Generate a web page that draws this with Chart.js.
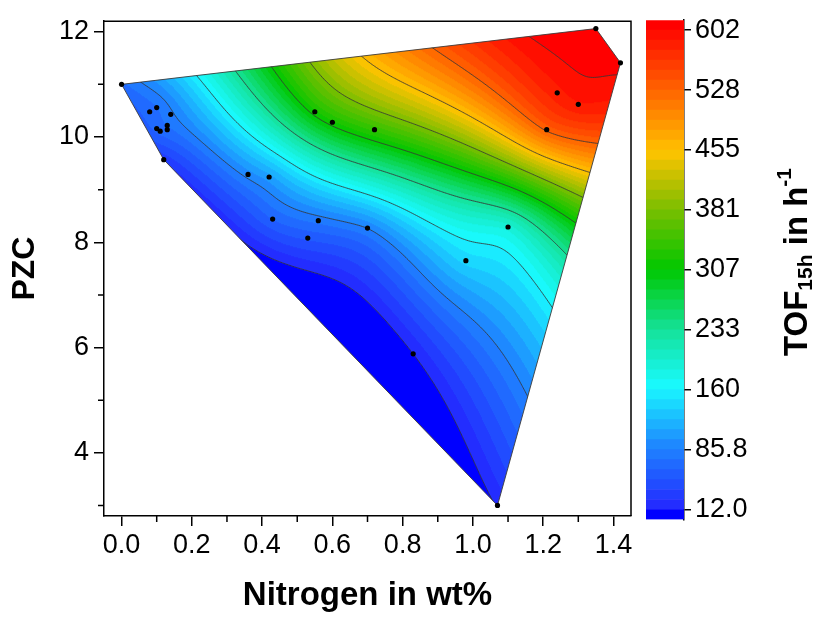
<!DOCTYPE html>
<html>
<head>
<meta charset="utf-8">
<script src="https://cdn.jsdelivr.net/npm/chart.js@4.4.0/dist/chart.umd.min.js"></script>
<style>
  html, body { margin: 0; padding: 0; background: #fff; }
  #wrap { position: relative; width: 825px; height: 617px; }
  #main { position: absolute; left: 0; top: 0; }
  #cbar { position: absolute; left: 640px; top: 0; }
</style>
</head>
<body>
<div id="wrap">
  <canvas id="main" width="640" height="617"></canvas>
  <canvas id="cbar" width="185" height="617"></canvas>
</div>
<script>
'use strict';

// measured samples: nitrogen content, point of zero charge, turnover frequency
var nitrogen = [0.00, 0.08, 0.10, 0.14, 0.10, 0.11, 0.13, 0.13, 0.12, 0.36, 0.42, 0.43, 0.56, 0.53,
                0.70, 0.55, 0.60, 0.72, 1.35, 1.42, 1.24, 1.30, 1.21, 1.10, 0.98, 0.83, 1.07];
var pzc      = [11.00, 10.48, 10.56, 10.43, 10.16, 10.11, 10.22, 10.14, 9.57, 9.29, 9.24, 8.44, 8.41, 8.08,
                8.27, 10.48, 10.28, 10.14, 12.06, 11.41, 10.84, 10.62, 10.14, 8.29, 7.65, 5.88, 3.00];
var tof      = [70, 68, 72, 82, 66, 66, 74, 70, 28, 92, 105, 62, 78, 52,
                86, 316, 316, 336, 615, 606, 585, 588, 532, 190, 140, 12, 14];

var xTicks = [0.0, 0.2, 0.4, 0.6, 0.8, 1.0, 1.2, 1.4];
var xMinorTicks = [0.1, 0.3, 0.5, 0.7, 0.9, 1.1, 1.3];
var yTicks = [4, 6, 8, 10, 12];
var yMinorTicks = [3, 5, 7, 9, 11];
var cbTicks = [12.0, 85.75, 159.5, 233.25, 307.0, 380.75, 454.5, 528.25, 602.0];

var tofMin = 12.0, tofMax = 602.0, nBands = 48;
var bandStep = (tofMax - tofMin) / nBands;

var FONT = "'Liberation Sans', Arial, sans-serif";

// Origin-like rainbow
var palStops = [
  [0.000, 35, 45, 255], [0.125, 30, 135, 255], [0.250, 25, 250, 255], [0.375, 20, 225, 150],
  [0.500, 0, 200, 0], [0.625, 120, 190, 0], [0.750, 255, 195, 0], [0.875, 255, 105, 0], [1.000, 255, 15, 0]
];
var underColor = [0, 0, 255], overColor = [255, 0, 0];

function palette(t) {
  for (var i = 1; i < palStops.length; i++) {
    if (t <= palStops[i][0]) {
      var a = palStops[i - 1], b = palStops[i];
      var f = (t - a[0]) / (b[0] - a[0]);
      return [Math.round(a[1] + f * (b[1] - a[1])), Math.round(a[2] + f * (b[2] - a[2])), Math.round(a[3] + f * (b[3] - a[3]))];
    }
  }
  var l = palStops[palStops.length - 1];
  return [l[1], l[2], l[3]];
}
function bandColor(v) {
  if (v < tofMin) return underColor;
  if (v >= tofMax) return overColor;
  var k = Math.floor((v - tofMin) / bandStep);
  return palette(k / (nBands - 1));
}

// thin plate spline through the samples (scaled to roughly screen aspect)
var UX = 0.702, UY = 0.106;
function kern(r2) { return r2 > 0 ? 0.5 * r2 * Math.log(r2) : 0; }
function solveTps(us, vs, zs, lambda) {
  var n = us.length, m = n + 3, A = [], b = [], i, j, k;
  for (i = 0; i < m; i++) { A.push(new Array(m).fill(0)); b.push(0); }
  for (i = 0; i < n; i++) {
    for (j = 0; j < n; j++) {
      var dx = us[i] - us[j], dy = vs[i] - vs[j];
      A[i][j] = kern(dx * dx + dy * dy) + (i === j ? lambda : 0);
    }
    A[i][n] = 1; A[i][n + 1] = us[i]; A[i][n + 2] = vs[i];
    A[n][i] = 1; A[n + 1][i] = us[i]; A[n + 2][i] = vs[i];
    b[i] = zs[i];
  }
  for (k = 0; k < m; k++) {
    var p = k;
    for (i = k + 1; i < m; i++) if (Math.abs(A[i][k]) > Math.abs(A[p][k])) p = i;
    var t = A[k]; A[k] = A[p]; A[p] = t; t = b[k]; b[k] = b[p]; b[p] = t;
    for (i = k + 1; i < m; i++) {
      var f = A[i][k] / A[k][k];
      for (j = k; j < m; j++) A[i][j] -= f * A[k][j];
      b[i] -= f * b[k];
    }
  }
  var x = new Array(m).fill(0);
  for (i = m - 1; i >= 0; i--) {
    var s = b[i];
    for (j = i + 1; j < m; j++) s -= A[i][j] * x[j];
    x[i] = s / A[i][i];
  }
  return x;
}

function convexHull(pts) {
  pts = pts.slice().sort(function(a, b) { return a[0] - b[0] || a[1] - b[1]; });
  function cross(o, a, b) { return (a[0] - o[0]) * (b[1] - o[1]) - (a[1] - o[1]) * (b[0] - o[0]); }
  var lower = [], upper = [], i;
  for (i = 0; i < pts.length; i++) {
    while (lower.length >= 2 && cross(lower[lower.length - 2], lower[lower.length - 1], pts[i]) <= 0) lower.pop();
    lower.push(pts[i]);
  }
  for (i = pts.length - 1; i >= 0; i--) {
    while (upper.length >= 2 && cross(upper[upper.length - 2], upper[upper.length - 1], pts[i]) <= 0) upper.pop();
    upper.push(pts[i]);
  }
  upper.pop(); lower.pop();
  return lower.concat(upper);
}

var contourPlugin = {
  id: 'contourFill',
  beforeDatasetsDraw: function(chart) {
    var ctx = chart.ctx, ca = chart.chartArea, xs = chart.scales.x, ys = chart.scales.y;
    var W = Math.ceil(ca.right - ca.left), H = Math.ceil(ca.bottom - ca.top);
    var us = nitrogen.map(function(v) { return v * UX; });
    var vs = pzc.map(function(v) { return v * UY; });
    var n = us.length;
    var coef = solveTps(us, vs, tof, 2e-4);
    var field = new Float32Array(W * H);
    var i, j, k;
    for (j = 0; j < H; j++) {
      var v = ys.getValueForPixel(ca.top + j + 0.5) * UY;
      for (i = 0; i < W; i++) {
        var u = xs.getValueForPixel(ca.left + i + 0.5) * UX;
        var s = coef[n] + coef[n + 1] * u + coef[n + 2] * v;
        for (k = 0; k < n; k++) {
          var dx = u - us[k], dy = v - vs[k];
          s += coef[k] * kern(dx * dx + dy * dy);
        }
        field[j * W + i] = s;
      }
    }
    var off = document.createElement('canvas');
    off.width = W; off.height = H;
    var octx = off.getContext('2d');
    var img = octx.createImageData(W, H);
    for (i = 0; i < W * H; i++) {
      var c = bandColor(field[i]);
      img.data[i * 4] = c[0]; img.data[i * 4 + 1] = c[1]; img.data[i * 4 + 2] = c[2]; img.data[i * 4 + 3] = 255;
    }
    octx.putImageData(img, 0, 0);

    var hull = convexHull(nitrogen.map(function(x, idx) { return [x, pzc[idx]]; }))
      .map(function(p) { return [xs.getPixelForValue(p[0]), ys.getPixelForValue(p[1])]; });
    function hullPath() {
      ctx.beginPath();
      hull.forEach(function(p, idx) { if (idx) ctx.lineTo(p[0], p[1]); else ctx.moveTo(p[0], p[1]); });
      ctx.closePath();
    }

    ctx.save();
    hullPath();
    ctx.clip();
    ctx.drawImage(off, ca.left, ca.top);

    // contour lines at the colour bar tick values (marching squares, 2px cells)
    var g = 2;
    ctx.strokeStyle = 'rgba(55,55,55,0.85)';
    ctx.lineWidth = 1;
    function val(ii, jj) { return field[Math.min(jj, H - 1) * W + Math.min(ii, W - 1)]; }
    cbTicks.forEach(function(L) {
      ctx.beginPath();
      for (var jj = 0; jj + g < H; jj += g) {
        for (var ii = 0; ii + g < W; ii += g) {
          var a = val(ii, jj), b = val(ii + g, jj), c2 = val(ii + g, jj + g), d = val(ii, jj + g);
          var pts = [];
          var x0 = ca.left + ii + 0.5, y0 = ca.top + jj + 0.5;
          if ((a - L) * (b - L) < 0) pts.push([x0 + g * (L - a) / (b - a), y0]);
          if ((b - L) * (c2 - L) < 0) pts.push([x0 + g, y0 + g * (L - b) / (c2 - b)]);
          if ((d - L) * (c2 - L) < 0) pts.push([x0 + g * (L - d) / (c2 - d), y0 + g]);
          if ((a - L) * (d - L) < 0) pts.push([x0, y0 + g * (L - a) / (d - a)]);
          for (var q = 0; q + 1 < pts.length; q += 2) {
            ctx.moveTo(pts[q][0], pts[q][1]);
            ctx.lineTo(pts[q + 1][0], pts[q + 1][1]);
          }
        }
      }
      ctx.stroke();
    });
    ctx.restore();

    ctx.save();
    hullPath();
    ctx.strokeStyle = 'rgba(60,60,60,0.9)';
    ctx.lineWidth = 1;
    ctx.stroke();
    ctx.restore();
  },
  afterDraw: function(chart) {
    var ctx = chart.ctx, ca = chart.chartArea, xs = chart.scales.x, ys = chart.scales.y;
    ctx.save();
    ctx.strokeStyle = '#000';
    ctx.lineWidth = 1.5;
    ctx.beginPath();
    ctx.moveTo(ca.left, ca.top); ctx.lineTo(ca.right, ca.top); ctx.lineTo(ca.right, ca.bottom);
    xMinorTicks.forEach(function(v) {
      var px = xs.getPixelForValue(v);
      ctx.moveTo(px, ca.bottom); ctx.lineTo(px, ca.bottom + 6);
    });
    yMinorTicks.forEach(function(v) {
      var py = ys.getPixelForValue(v);
      ctx.moveTo(ca.left, py); ctx.lineTo(ca.left - 6, py);
    });
    ctx.stroke();
    ctx.restore();
  }
};

var mainChart = new Chart(document.getElementById('main'), {
  type: 'scatter',
  data: {
    datasets: [{
      data: nitrogen.map(function(x, i) { return { x: x, y: pzc[i] }; }),
      backgroundColor: '#000',
      borderWidth: 0,
      pointRadius: 2.6
    }]
  },
  options: {
    responsive: false,
    animation: false,
    layout: { padding: { top: 19, right: 9, left: 0, bottom: 0 } },
    plugins: { legend: { display: false }, tooltip: { enabled: false } },
    scales: {
      x: {
        type: 'linear', min: -0.05, max: 1.45,
        afterBuildTicks: function(s) { s.ticks = xTicks.map(function(v) { return { value: v }; }); },
        afterFit: function(s) { s.height = 101; },
        ticks: {
          callback: function(v) { return v.toFixed(1); },
          font: { family: FONT, size: 27 }, color: '#000', padding: 3, maxRotation: 0, autoSkip: false
        },
        grid: { drawOnChartArea: false, drawTicks: true, tickLength: 10, color: '#000', lineWidth: 1.5 },
        border: { display: true, color: '#000', width: 1.5 },
        title: {
          display: true, text: 'Nitrogen in wt%', color: '#000',
          font: { family: FONT, size: 33, weight: 'bold' }, padding: { top: 0, bottom: 1 }
        }
      },
      y: {
        type: 'linear', min: 2.8, max: 12.2,
        afterBuildTicks: function(s) { s.ticks = yTicks.map(function(v) { return { value: v }; }); },
        afterFit: function(s) { s.width = 104; },
        ticks: {
          callback: function(v) { return String(v); },
          font: { family: FONT, size: 27 }, color: '#000', padding: 5
        },
        grid: { drawOnChartArea: false, drawTicks: true, tickLength: 10, color: '#000', lineWidth: 1.5 },
        border: { display: true, color: '#000', width: 1.5 },
        title: {
          display: true, text: 'PZC', color: '#000',
          font: { family: FONT, size: 32, weight: 'bold' }, padding: { top: 6, bottom: 0 }
        }
      }
    }
  },
  plugins: [contourPlugin]
});

// colour bar: one floating bar per level band
var bandSets = [];
for (var k = -1; k <= nBands; k++) {
  var lo = tofMin + k * bandStep;
  var c = k < 0 ? underColor : (k >= nBands ? overColor : palette(k / (nBands - 1)));
  bandSets.push({
    data: [[lo, lo + bandStep]],
    backgroundColor: 'rgb(' + c.join(',') + ')',
    borderWidth: 0,
    barPercentage: 1,
    categoryPercentage: 1,
    grouped: false
  });
}

var cbTitle = {
  id: 'cbTitle',
  afterDraw: function(chart) {
    var ctx = chart.ctx;
    var parts = [
      { t: 'TOF', size: 33, dy: 0 },
      { t: '15h', size: 21, dy: 8 },
      { t: ' in h', size: 33, dy: 0 },
      { t: '-1', size: 21, dy: -13 }
    ];
    ctx.save();
    var total = 0;
    parts.forEach(function(p) {
      ctx.font = 'bold ' + p.size + 'px ' + FONT;
      p.w = ctx.measureText(p.t).width;
      total += p.w;
    });
    ctx.translate(158, 262);
    ctx.rotate(-Math.PI / 2);
    ctx.fillStyle = '#000';
    ctx.textBaseline = 'middle';
    var x = -total / 2;
    parts.forEach(function(p) {
      ctx.font = 'bold ' + p.size + 'px ' + FONT;
      ctx.fillText(p.t, x, p.dy);
      x += p.w;
    });
    ctx.restore();
  }
};

var barChart = new Chart(document.getElementById('cbar'), {
  type: 'bar',
  data: { labels: [''], datasets: bandSets },
  options: {
    responsive: false,
    animation: false,
    layout: { padding: { left: 6, top: 19.5, bottom: 97.5, right: 0 } },
    plugins: { legend: { display: false }, tooltip: { enabled: false } },
    scales: {
      x: { display: false, stacked: false },
      y: {
        position: 'right', min: tofMin - bandStep, max: tofMax + bandStep,
        afterBuildTicks: function(s) { s.ticks = cbTicks.map(function(v) { return { value: v }; }); },
        afterFit: function(s) { s.width = 141; },
        ticks: {
          callback: function(v) { return Number(v).toPrecision(3); },
          font: { family: FONT, size: 27 }, color: '#000', padding: 4
        },
        grid: { drawOnChartArea: false, drawTicks: true, tickLength: 7, color: '#000', lineWidth: 1.5 },
        border: { display: true, color: '#000', width: 1.5 }
      }
    }
  },
  plugins: [cbTitle]
});
</script>
</body>
</html>
